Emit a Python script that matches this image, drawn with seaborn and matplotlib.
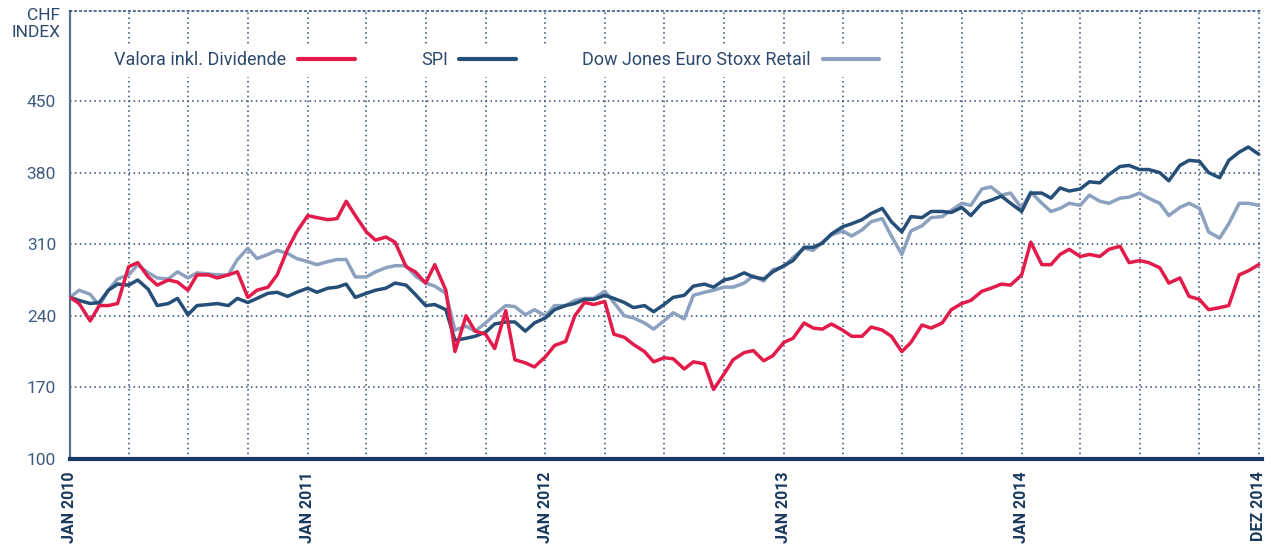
import pandas as pd
import seaborn as sns
from matplotlib import pyplot as plt

# half-monthly readings, Jan 2010 .. Dec 2014
dates = list(pd.date_range("2010-01-01", periods=120, freq="SMS")) + [pd.Timestamp("2014-12-31")]

valora = [
    258, 252, 235, 250, 250, 252, 288, 292, 278, 270, 275, 273, 265, 280, 280, 277,
    280, 283, 258, 265, 268, 280, 305, 322, 338, 336, 334, 335, 352, 338, 322, 314,
    317, 312, 288, 283, 272, 290, 265, 205, 240, 225, 222, 208, 245, 197, 194, 190,
    200, 211, 215, 240, 253, 251, 254, 222, 219, 212, 205, 195, 199, 198, 188, 195,
    193, 168, 183, 197, 204, 206, 196, 201, 214, 218, 233, 228, 227, 232, 226, 220,
    220, 229, 226, 220, 205, 214, 231, 228, 233, 246, 252, 255, 264, 267, 271, 270,
    280, 312, 290, 290, 300, 305, 298, 300, 298, 305, 308, 292, 294, 292, 287, 272,
    277, 259, 256, 246, 248, 250, 280, 284, 290,
]
spi = [
    258, 255, 252, 253, 265, 271, 270, 275, 266, 250, 252, 257, 241, 250, 251, 252,
    250, 257, 253, 257, 262, 263, 259, 263, 267, 263, 267, 268, 271, 258, 262, 265,
    267, 272, 270, 261, 250, 251, 246, 216, 218, 220, 224, 232, 234, 234, 225, 233,
    238, 246, 250, 252, 256, 256, 260, 257, 253, 248, 250, 244, 251, 258, 260, 269,
    271, 268, 275, 277, 282, 278, 276, 283, 289, 294, 307, 307, 311, 320, 327, 330,
    334, 340, 345, 332, 322, 337, 336, 342, 342, 341, 346, 338, 350, 353, 357, 350,
    342, 360, 360, 355, 365, 362, 364, 371, 370, 378, 386, 387, 383, 383, 380, 372,
    387, 392, 391, 380, 375, 392, 400, 405, 398,
]
stoxx_retail = [
    258, 265, 261, 250, 265, 276, 280, 290, 282, 277, 276, 283, 277, 282, 281, 280,
    280, 295, 306, 296, 300, 304, 301, 296, 293, 290, 293, 295, 295, 278, 278, 283,
    287, 289, 289, 279, 272, 269, 262, 226, 230, 225, 233, 241, 250, 249, 241, 246,
    240, 250, 250, 255, 257, 257, 264, 253, 240, 238, 233, 227, 235, 243, 237, 260,
    263, 265, 268, 268, 272, 279, 274, 285, 288, 297, 306, 304, 312, 319, 323, 318,
    324, 332, 335, 318, 300, 323, 328, 336, 337, 343, 350, 348, 364, 366, 358, 360,
    345, 361, 350, 342, 345, 350, 348, 358, 352, 350, 355, 356, 360, 355, 350, 338,
    346, 350, 345, 322, 316, 330, 350, 350, 348,
]

labels = ["Valora inkl. Dividende", "SPI", "Dow Jones Euro Stoxx Retail"]
colors = ["#e31b4b", "#264f78", "#8ca0bf"]

y_ticks = [100, 170, 240, 310, 380, 450]
x_ticks = ["2010-01-01", "2011-01-01", "2012-01-01", "2013-01-01", "2014-01-01", "2014-12-31"]
x_ticklabels = ["JAN 2010", "JAN 2011", "JAN 2012", "JAN 2013", "JAN 2014", "DEZ 2014"]

sns.set_style("white")
plt.rcParams["font.family"] = ["Roboto", "DejaVu Sans"]

navy = "#1b3a5e"
grid_kw = dict(color="#2a4a70", linestyle=(0, (1, 2.2)), linewidth=1.1)

fig = plt.figure(figsize=(12.71, 5.46), dpi=100)
ax = fig.add_axes([70 / 1271, 87 / 546, 1192 / 1271, 448 / 546])

series = [valora, spi, stoxx_retail]
zorders = [5, 4, 3]
for vals, lab, col, z in zip(series, labels, colors, zorders):
    sns.lineplot(x=dates, y=vals, ax=ax, color=col, linewidth=2.5, label=lab, zorder=z)

ax.set_xlim(pd.Timestamp("2010-01-01"), pd.Timestamp("2015-01-05"))
ax.set_ylim(100, 538)
ax.set_xlabel("")
ax.set_ylabel("")

# axes and grid
ax.set_yticks(y_ticks)
ax.set_yticklabels([str(v) for v in y_ticks], fontsize=12.5, color="#3e5b7e")
ax.set_xticks(pd.to_datetime(x_ticks))
ax.set_xticklabels(x_ticklabels, rotation=90, fontsize=11.5, fontweight="bold", color=navy)
quarters = [d for d in pd.date_range("2010-04-01", "2014-10-01", freq="QS") if d.month != 1]
ax.set_xticks(quarters, minor=True)
ax.tick_params(axis="both", which="both", length=0)
ax.tick_params(axis="y", pad=10)
ax.tick_params(axis="x", pad=9)
ax.grid(True, axis="y", **grid_kw)
ax.grid(True, axis="x", which="both", **grid_kw)

ax.spines["right"].set_visible(False)
ax.spines["top"].set_linestyle((0, (1, 2.2)))
ax.spines["top"].set_color("#2a4a70")
ax.spines["top"].set_linewidth(1.1)
ax.spines["left"].set_color("#5b7291")
ax.spines["left"].set_linewidth(1.6)
ax.spines["bottom"].set_color("#163a63")
ax.spines["bottom"].set_linewidth(3)

leg = ax.legend(
    loc="center left", bbox_to_anchor=(0.031, 0.89), ncol=3, markerfirst=False,
    handlelength=3.15, handletextpad=0.65, columnspacing=3.65, borderpad=0.4,
    borderaxespad=0, frameon=True, fancybox=False, fontsize=13,
)
leg.get_frame().set_facecolor("white")
leg.get_frame().set_edgecolor("none")
leg.get_frame().set_alpha(1)
leg.set_zorder(10)
for t in leg.get_texts():
    t.set_color("#2d4a6e")
for h in leg.get_lines():
    h.set_linewidth(3)

fig.text(60 / 1271, 1 - 8 / 546, "CHF\nINDEX", ha="right", va="top", fontsize=12.5,
         color="#2d4a6e", linespacing=1.2)

fig.savefig("out.png", dpi=100)
